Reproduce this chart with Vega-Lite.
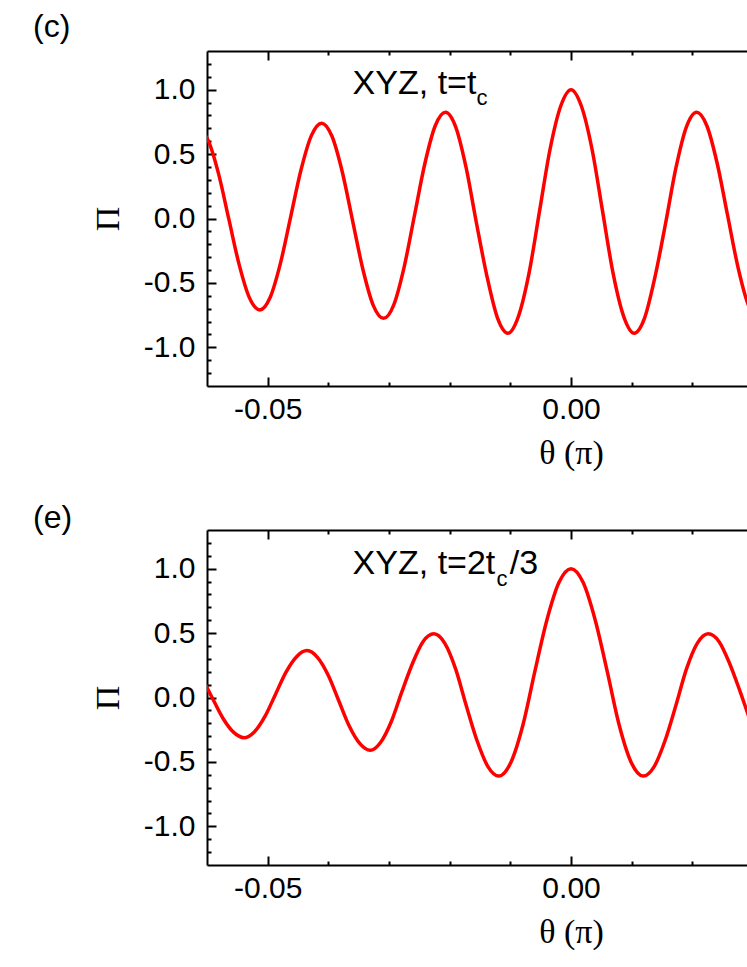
{
  "$schema": "https://vega.github.io/schema/vega-lite/v6.json",
  "padding": {"left": 33, "top": 10, "right": 0, "bottom": 5},
  "spacing": 31,
  "config": {
    "view": {"stroke": null},
    "axis": {"grid": false, "domainColor": "black", "domainWidth": 2, "tickColor": "black", "tickWidth": 2,
      "labelFont": "Liberation Sans", "labelFontSize": 30, "labelColor": "black", "labelOverlap": false, "labelFlush": false,
      "titleFont": "Liberation Serif", "titleFontSize": 34, "titleFontWeight": "normal", "titleColor": "black"},
    "title": {"font": "Liberation Sans", "fontSize": 32, "fontWeight": "normal", "color": "black", "anchor": "start", "frame": "group"}
  },
  "datasets": {
    "c": [
      {"theta": -0.0615, "Pi": 0.70}, {"theta": -0.0598, "Pi": 0.606}, {"theta": -0.0581, "Pi": 0.348}, {"theta": -0.0564, "Pi": -0.005},
      {"theta": -0.0547, "Pi": -0.358}, {"theta": -0.0530, "Pi": -0.616}, {"theta": -0.0513, "Pi": -0.71}, {"theta": -0.0496, "Pi": -0.613},
      {"theta": -0.0479, "Pi": -0.348}, {"theta": -0.0462, "Pi": 0.015}, {"theta": -0.0445, "Pi": 0.378}, {"theta": -0.0428, "Pi": 0.643},
      {"theta": -0.0411, "Pi": 0.74}, {"theta": -0.0394, "Pi": 0.638}, {"theta": -0.0377, "Pi": 0.361}, {"theta": -0.0360, "Pi": -0.018},
      {"theta": -0.0343, "Pi": -0.396}, {"theta": -0.0326, "Pi": -0.674}, {"theta": -0.0309, "Pi": -0.775}, {"theta": -0.0292, "Pi": -0.668},
      {"theta": -0.0275, "Pi": -0.375}, {"theta": -0.0258, "Pi": 0.025}, {"theta": -0.0241, "Pi": 0.425}, {"theta": -0.0224, "Pi": 0.718},
      {"theta": -0.0207, "Pi": 0.825}, {"theta": -0.0190, "Pi": 0.710}, {"theta": -0.0173, "Pi": 0.396}, {"theta": -0.0156, "Pi": -0.033},
      {"theta": -0.0138, "Pi": -0.461}, {"theta": -0.0121, "Pi": -0.775}, {"theta": -0.0104, "Pi": -0.89}, {"theta": -0.0087, "Pi": -0.763},
      {"theta": -0.0069, "Pi": -0.418}, {"theta": -0.0052, "Pi": 0.055}, {"theta": -0.0035, "Pi": 0.528}, {"theta": -0.0017, "Pi": 0.873},
      {"theta": 0, "Pi": 1.0}, {"theta": 0.0017, "Pi": 0.873}, {"theta": 0.0035, "Pi": 0.528}, {"theta": 0.0052, "Pi": 0.055},
      {"theta": 0.0069, "Pi": -0.418}, {"theta": 0.0087, "Pi": -0.763}, {"theta": 0.0104, "Pi": -0.89}, {"theta": 0.0121, "Pi": -0.775},
      {"theta": 0.0138, "Pi": -0.461}, {"theta": 0.0156, "Pi": -0.033}, {"theta": 0.0173, "Pi": 0.396}, {"theta": 0.0190, "Pi": 0.710},
      {"theta": 0.0207, "Pi": 0.825}, {"theta": 0.0224, "Pi": 0.718}, {"theta": 0.0241, "Pi": 0.425}, {"theta": 0.0258, "Pi": 0.025},
      {"theta": 0.0275, "Pi": -0.375}, {"theta": 0.0292, "Pi": -0.668}, {"theta": 0.0309, "Pi": -0.775}
    ],
    "e": [
      {"theta": -0.0643, "Pi": 0.300}, {"theta": -0.0626, "Pi": 0.259}, {"theta": -0.0608, "Pi": 0.147}, {"theta": -0.0591, "Pi": -0.006},
      {"theta": -0.0574, "Pi": -0.159}, {"theta": -0.0556, "Pi": -0.271}, {"theta": -0.0539, "Pi": -0.312}, {"theta": -0.0522, "Pi": -0.267},
      {"theta": -0.0504, "Pi": -0.143}, {"theta": -0.0487, "Pi": 0.026}, {"theta": -0.0470, "Pi": 0.195}, {"theta": -0.0452, "Pi": 0.319},
      {"theta": -0.0435, "Pi": 0.364}, {"theta": -0.0418, "Pi": 0.312}, {"theta": -0.0400, "Pi": 0.171}, {"theta": -0.0383, "Pi": -0.023},
      {"theta": -0.0366, "Pi": -0.217}, {"theta": -0.0348, "Pi": -0.358}, {"theta": -0.0331, "Pi": -0.41}, {"theta": -0.0314, "Pi": -0.349},
      {"theta": -0.0296, "Pi": -0.184}, {"theta": -0.0279, "Pi": 0.042}, {"theta": -0.0261, "Pi": 0.268}, {"theta": -0.0244, "Pi": 0.433},
      {"theta": -0.0226, "Pi": 0.494}, {"theta": -0.0208, "Pi": 0.420}, {"theta": -0.0190, "Pi": 0.218}, {"theta": -0.0173, "Pi": -0.058},
      {"theta": -0.0155, "Pi": -0.334}, {"theta": -0.0137, "Pi": -0.536}, {"theta": -0.0119, "Pi": -0.61}, {"theta": -0.0099, "Pi": -0.502},
      {"theta": -0.0079, "Pi": -0.208}, {"theta": -0.0060, "Pi": 0.195}, {"theta": -0.0040, "Pi": 0.598}, {"theta": -0.0020, "Pi": 0.892},
      {"theta": 0, "Pi": 1.0}, {"theta": 0.0020, "Pi": 0.892}, {"theta": 0.0040, "Pi": 0.598}, {"theta": 0.0060, "Pi": 0.195},
      {"theta": 0.0079, "Pi": -0.208}, {"theta": 0.0099, "Pi": -0.502}, {"theta": 0.0119, "Pi": -0.61}, {"theta": 0.0137, "Pi": -0.536},
      {"theta": 0.0155, "Pi": -0.334}, {"theta": 0.0173, "Pi": -0.058}, {"theta": 0.0190, "Pi": 0.218}, {"theta": 0.0208, "Pi": 0.420},
      {"theta": 0.0226, "Pi": 0.494}, {"theta": 0.0244, "Pi": 0.433}, {"theta": 0.0261, "Pi": 0.268}, {"theta": 0.0279, "Pi": 0.042},
      {"theta": 0.0296, "Pi": -0.184}, {"theta": 0.0314, "Pi": -0.349}, {"theta": 0.0331, "Pi": -0.41}
    ]
  },
  "vconcat": [
    {
      "width": 540, "height": 335,
      "title": {"text": "(c)", "dx": -174, "offset": 5},
      "layer": [
        {
          "data": {"name": "c"},
          "mark": {"type": "line", "color": "#ff0000", "strokeWidth": 3.5, "interpolate": "monotone", "clip": true},
          "encoding": {
            "x": {"field": "theta", "type": "quantitative", "scale": {"domain": [-0.06, 0.029], "nice": false, "zero": false},
              "axis": {"orient": "bottom", "title": "θ (π)", "titleX": 364, "titleAlign": "center", "titlePadding": 7,
                "values": [-0.05, -0.04, -0.03, -0.02, -0.01, 0, 0.01, 0.02],
                "labelExpr": "abs(datum.value + 0.05) < 1e-6 ? '-0.05' : (abs(datum.value) < 1e-6 ? '0.00' : '')",
                "tickSize": {"condition": {"test": "abs(datum.value + 0.05) < 1e-6 || abs(datum.value) < 1e-6", "value": -9}, "value": -4},
                "labelPadding": 17}},
            "y": {"field": "Pi", "type": "quantitative", "scale": {"domain": [-1.3, 1.3], "nice": false, "zero": false},
              "axis": {"orient": "left", "title": "Π", "titlePadding": 18,
                "values": [-1.2, -1.1, -1, -0.9, -0.8, -0.7, -0.6, -0.5, -0.4, -0.3, -0.2, -0.1, 0, 0.1, 0.2, 0.3, 0.4, 0.5, 0.6, 0.7, 0.8, 0.9, 1, 1.1, 1.2],
                "labelExpr": "abs(datum.value - 1) < 1e-6 ? '1.0' : abs(datum.value - 0.5) < 1e-6 ? '0.5' : abs(datum.value) < 1e-6 ? '0.0' : abs(datum.value + 0.5) < 1e-6 ? '-0.5' : abs(datum.value + 1) < 1e-6 ? '-1.0' : ''",
                "tickSize": {"condition": {"test": "abs(datum.value * 2 - round(datum.value * 2)) < 1e-6", "value": -9}, "value": -4},
                "labelPadding": 21}}
          }
        },
        {
          "data": {"values": [{"theta": -0.036, "Pi": 0.97, "label": "XYZ, t=t"}]},
          "mark": {"type": "text", "align": "left", "baseline": "alphabetic", "font": "Liberation Sans", "fontSize": 34, "color": "black"},
          "encoding": {
            "x": {"field": "theta", "type": "quantitative", "scale": {"domain": [-0.06, 0.029], "nice": false, "zero": false},
              "axis": {"orient": "top", "labels": false, "title": null,
                "values": [-0.05, -0.04, -0.03, -0.02, -0.01, 0, 0.01, 0.02],
                "tickSize": {"condition": {"test": "abs(datum.value + 0.05) < 1e-6 || abs(datum.value) < 1e-6", "value": -9}, "value": -4}}},
            "y": {"field": "Pi", "type": "quantitative", "scale": {"domain": [-1.3, 1.3], "nice": false, "zero": false}, "axis": null},
            "text": {"field": "label"}
          }
        },
        {
          "data": {"values": [{"theta": -0.0156, "Pi": 0.88, "label": "c"}]},
          "mark": {"type": "text", "align": "left", "baseline": "alphabetic", "font": "Liberation Sans", "fontSize": 22, "color": "black"},
          "encoding": {
            "x": {"field": "theta", "type": "quantitative", "scale": {"domain": [-0.06, 0.029], "nice": false, "zero": false}, "axis": null},
            "y": {"field": "Pi", "type": "quantitative", "scale": {"domain": [-1.3, 1.3], "nice": false, "zero": false}, "axis": null},
            "text": {"field": "label"}
          }
        }
      ],
      "resolve": {"axis": {"x": "independent", "y": "independent"}}
    },
    {
      "width": 540, "height": 335,
      "title": {"text": "(e)", "dx": -174, "offset": -7},
      "layer": [
        {
          "data": {"name": "e"},
          "mark": {"type": "line", "color": "#ff0000", "strokeWidth": 3.5, "interpolate": "monotone", "clip": true},
          "encoding": {
            "x": {"field": "theta", "type": "quantitative", "scale": {"domain": [-0.06, 0.029], "nice": false, "zero": false},
              "axis": {"orient": "bottom", "title": "θ (π)", "titleX": 364, "titleAlign": "center", "titlePadding": 7,
                "values": [-0.05, -0.04, -0.03, -0.02, -0.01, 0, 0.01, 0.02],
                "labelExpr": "abs(datum.value + 0.05) < 1e-6 ? '-0.05' : (abs(datum.value) < 1e-6 ? '0.00' : '')",
                "tickSize": {"condition": {"test": "abs(datum.value + 0.05) < 1e-6 || abs(datum.value) < 1e-6", "value": -9}, "value": -4},
                "labelPadding": 17}},
            "y": {"field": "Pi", "type": "quantitative", "scale": {"domain": [-1.3, 1.3], "nice": false, "zero": false},
              "axis": {"orient": "left", "title": "Π", "titlePadding": 18,
                "values": [-1.2, -1.1, -1, -0.9, -0.8, -0.7, -0.6, -0.5, -0.4, -0.3, -0.2, -0.1, 0, 0.1, 0.2, 0.3, 0.4, 0.5, 0.6, 0.7, 0.8, 0.9, 1, 1.1, 1.2],
                "labelExpr": "abs(datum.value - 1) < 1e-6 ? '1.0' : abs(datum.value - 0.5) < 1e-6 ? '0.5' : abs(datum.value) < 1e-6 ? '0.0' : abs(datum.value + 0.5) < 1e-6 ? '-0.5' : abs(datum.value + 1) < 1e-6 ? '-1.0' : ''",
                "tickSize": {"condition": {"test": "abs(datum.value * 2 - round(datum.value * 2)) < 1e-6", "value": -9}, "value": -4},
                "labelPadding": 21}}
          }
        },
        {
          "data": {"values": [{"theta": -0.036, "Pi": 0.96, "label": "XYZ, t=2t"}, {"theta": -0.0101, "Pi": 0.96, "label": "/3"}]},
          "mark": {"type": "text", "align": "left", "baseline": "alphabetic", "font": "Liberation Sans", "fontSize": 34, "color": "black"},
          "encoding": {
            "x": {"field": "theta", "type": "quantitative", "scale": {"domain": [-0.06, 0.029], "nice": false, "zero": false},
              "axis": {"orient": "top", "labels": false, "title": null,
                "values": [-0.05, -0.04, -0.03, -0.02, -0.01, 0, 0.01, 0.02],
                "tickSize": {"condition": {"test": "abs(datum.value + 0.05) < 1e-6 || abs(datum.value) < 1e-6", "value": -9}, "value": -4}}},
            "y": {"field": "Pi", "type": "quantitative", "scale": {"domain": [-1.3, 1.3], "nice": false, "zero": false}, "axis": null},
            "text": {"field": "label"}
          }
        },
        {
          "data": {"values": [{"theta": -0.0123, "Pi": 0.868, "label": "c"}]},
          "mark": {"type": "text", "align": "left", "baseline": "alphabetic", "font": "Liberation Sans", "fontSize": 22, "color": "black"},
          "encoding": {
            "x": {"field": "theta", "type": "quantitative", "scale": {"domain": [-0.06, 0.029], "nice": false, "zero": false}, "axis": null},
            "y": {"field": "Pi", "type": "quantitative", "scale": {"domain": [-1.3, 1.3], "nice": false, "zero": false}, "axis": null},
            "text": {"field": "label"}
          }
        }
      ],
      "resolve": {"axis": {"x": "independent", "y": "independent"}}
    }
  ]
}
